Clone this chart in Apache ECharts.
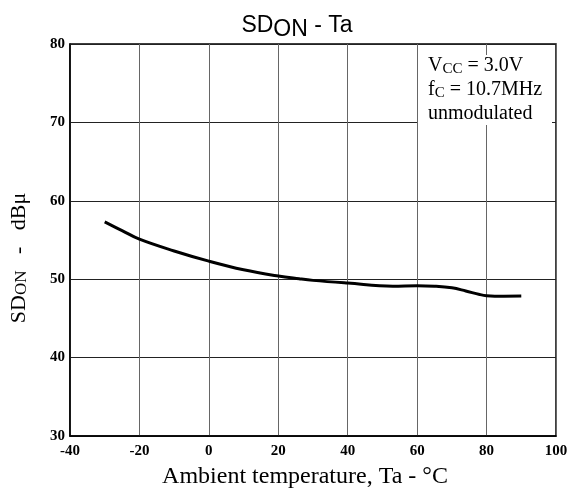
<!DOCTYPE html>
<html>
<head>
<meta charset="utf-8">
<script src="https://cdn.jsdelivr.net/npm/echarts@6/dist/echarts.min.js"></script>
<style>
  html, body { margin: 0; padding: 0; background: #fff; }
  #chart { width: 576px; height: 494px; }
</style>
</head>
<body>
<div id="chart"></div>
<script>
// values
const temps = [-30, -25, -20, -10, 0, 10, 20, 26, 30, 40, 53, 60, 65, 70, 74, 78, 80, 85, 90];
const sdOn = [57.3, 56.2, 55.1, 53.6, 52.3, 51.2, 50.4, 50.05, 49.85, 49.5, 49.1, 49.15, 49.1, 48.9, 48.5, 48.05, 47.9, 47.83, 47.85];
const xTicks = [-40, -20, 0, 20, 40, 60, 80, 100];
const yTicks = [30, 40, 50, 60, 70, 80];

const serif = '"Liberation Serif", "DejaVu Serif", serif';
const sans = '"Liberation Sans", Arial, sans-serif';

const chart = echarts.init(document.getElementById('chart'));

chart.setOption({
  animation: false,
  title: {
    text: 'SD{sub|ON} - Ta',
    left: 292,
    textAlign: 'center',
    top: 5,
    textStyle: {
      fontFamily: sans,
      fontSize: 23,
      fontWeight: 'normal',
      color: '#000',
      rich: {
        sub: { fontFamily: sans, fontSize: 23, padding: [8, 0, 0, 0], color: '#000' }
      }
    }
  },
  grid: { left: 70, right: 20, top: 44, bottom: 53, show: true, borderColor: '#000', borderWidth: 1.5 },
  xAxis: {
    type: 'value',
    min: xTicks[0],
    max: xTicks[xTicks.length - 1],
    interval: 20,
    name: 'Ambient temperature, Ta - °C',
    nameLocation: 'middle',
    nameGap: 29,
    nameTextStyle: { fontFamily: serif, fontSize: 24, color: '#000', padding: [0, 16, 0, 0] },
    axisLine: { onZero: false, lineStyle: { color: '#000', width: 1.5 } },
    axisTick: { show: false },
    axisLabel: { fontFamily: serif, fontSize: 15, fontWeight: 'bold', color: '#000', margin: 8 },
    splitLine: { lineStyle: { color: '#666', width: 1 } }
  },
  yAxis: {
    type: 'value',
    min: yTicks[0],
    max: yTicks[yTicks.length - 1],
    interval: 10,
    name: 'SD{sub|ON}   -   dBμ',
    nameLocation: 'middle',
    nameGap: 40,
    nameRotate: 90,
    nameTextStyle: {
      fontFamily: serif, fontSize: 22, color: '#000', padding: [0, 36, 0, 0],
      rich: { sub: { fontFamily: serif, fontSize: 17, padding: [0, 0, -6, 0] } }
    },
    axisLine: { show: true, onZero: false, lineStyle: { color: '#000', width: 1.5 } },
    axisTick: { show: false },
    axisLabel: { fontFamily: serif, fontSize: 15, fontWeight: 'bold', color: '#000', margin: 5 },
    splitLine: { lineStyle: { color: '#222', width: 1 } }
  },
  graphic: [
    { type: 'rect', shape: { x: 418, y: 55, width: 134, height: 70 }, style: { fill: '#fff' }, z: 50 },
    {
      type: 'text', left: 428, top: 54, z: 51,
      style: {
        text: 'V{s|CC} = 3.0V\nf{s|C} = 10.7MHz\nunmodulated',
        font: '20px ' + serif,
        fill: '#000',
        lineHeight: 24,
        rich: { s: { font: '15px ' + serif, fill: '#000', padding: [7, 0, 0, 0] } }
      }
    }
  ],
  series: [{
    type: 'line',
    data: temps.map((t, i) => [t, sdOn[i]]),
    smooth: 0.4,
    showSymbol: false,
    lineStyle: { color: '#000', width: 3 }
  }]
});
</script>
</body>
</html>
